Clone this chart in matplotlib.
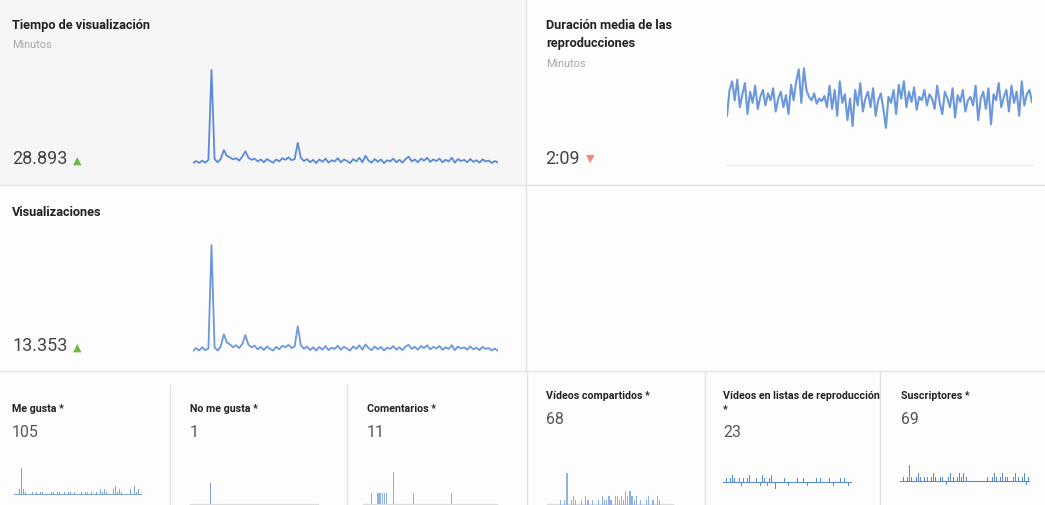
import matplotlib
matplotlib.use("Agg")
import matplotlib.pyplot as plt
from matplotlib.patches import Rectangle
from matplotlib.lines import Line2D
import numpy as np

# ---------------- data ----------------
tiempo = [200, 250, 205, 260, 210, 280, 2500, 300, 220, 300,
          520, 380, 340, 290, 320, 260, 360, 490, 330, 280,
          310, 240, 290, 220, 300, 250, 210, 290, 240, 320,
          280, 340, 270, 300, 700, 330, 250, 300, 220, 280,
          200, 290, 230, 310, 210, 270, 240, 320, 220, 290,
          250, 200, 300, 240, 330, 220, 380, 260, 210, 300,
          230, 290, 200, 270, 240, 310, 220, 280, 210, 300,
          360, 240, 290, 220, 310, 260, 330, 230, 290, 250,
          310, 220, 280, 240, 330, 210, 300, 250, 280, 220,
          300, 230, 270, 210, 290, 240, 260, 200, 250, 210]

visualizaciones = [95, 130, 100, 140, 105, 125, 1400, 140, 100, 150,
                   300, 200, 175, 140, 165, 130, 180, 290, 170, 140,
                   160, 115, 145, 105, 150, 120, 100, 145, 115, 160,
                   140, 170, 130, 150, 400, 165, 120, 150, 105, 140,
                   100, 145, 110, 155, 105, 135, 120, 160, 110, 145,
                   125, 100, 150, 120, 165, 110, 175, 130, 105, 150,
                   115, 145, 100, 135, 120, 155, 110, 140, 105, 150,
                   170, 120, 145, 110, 155, 130, 165, 115, 145, 125,
                   155, 110, 140, 120, 165, 105, 150, 125, 140, 110,
                   150, 115, 135, 105, 145, 120, 130, 100, 125, 95]

duracion = [110, 140, 150, 128, 152, 120, 135, 148, 112, 138,
            125, 145, 118, 132, 140, 122, 136, 128, 142, 115,
            130, 138, 120, 134, 112, 146, 128, 150, 164, 125,
            165, 140, 132, 128, 136, 124, 130, 127, 133, 120,
            145, 118, 140, 110, 150, 125, 135, 105, 130, 98,
            140, 122, 148, 115, 130, 138, 120, 142, 110, 128,
            136, 118, 96, 132, 125, 140, 112, 146, 130, 150,
            120, 138, 126, 143, 117, 132, 128, 140, 122, 135,
            130, 118, 145, 125, 112, 138, 130, 120, 142, 108,
            134, 126, 140, 115, 128, 132, 122, 145, 105, 130,
            138, 118, 142, 100, 135, 128, 148, 120, 132, 140,
            115, 145, 125, 138, 110, 150, 122, 135, 140, 126]

me_gusta = [1, 0, 2, 10, 2, 1, 0, 1, 1, 0, 1, 0, 1, 1, 0, 1, 0, 1, 1, 0,
            1, 1, 0, 1, 0, 1, 1, 0, 1, 0, 1, 1, 0, 1, 1, 0, 1, 2, 1, 0,
            2, 1, 2, 1, 3, 1, 2, 3, 1, 2, 1, 0, 1, 0, 2, 0, 3, 1, 2, 1]

no_me_gusta = [0, 0, 0, 0, 0, 0, 0, 0, 0, 1, 0, 0, 0, 0, 0, 0, 0, 0, 0, 0,
               0, 0, 0, 0, 0, 0, 0, 0, 0, 0, 0, 0, 0, 0, 0, 0, 0, 0, 0, 0,
               0, 0, 0, 0, 0, 0, 0, 0, 0, 0, 0, 0, 0, 0, 0, 0, 0, 0, 0, 0]

comentarios = [0, 0, 0, 1, 0, 0, 1, 1, 1, 1, 1, 0, 0, 3, 0, 0, 0, 0, 0, 0,
               0, 0, 1, 0, 0, 0, 0, 0, 0, 0, 0, 0, 0, 0, 0, 0, 0, 0, 0, 1,
               0, 0, 0, 0, 0, 0, 0, 0, 0, 0, 0, 0, 0, 0, 0, 0, 0, 0, 0, 0]

compartidos = [0, 0, 0, 0, 0, 0, 1, 0, 1, 7, 0, 1, 2, 1, 0, 0, 1, 0, 2, 1,
               0, 1, 0, 0, 1, 0, 2, 1, 1, 2, 1, 0, 2, 2, 1, 2, 1, 3, 2, 3,
               2, 1, 2, 0, 1, 0, 0, 1, 2, 0, 1, 0, 2, 1, 0, 0, 0, 0, 0, 0]

listas = [0, 1, 0, 1, 2, 1, 0, 1, -1, 1, 0, 1, 2, 1, 0, 1, 0, -1, 2, 1,
          -1, 1, 2, 0, -2, 0, 0, 0, 1, 0, -1, 0, 0, 0, 1, 0, 0, 1, 0, -1,
          0, 0, 0, 1, 0, 1, 0, 0, 0, 1, 0, -1, 0, 0, 1, 0, 1, 0, -1, 0]

suscriptores = [0, 1, 0, 1, 4, 1, 0, 1, 2, 1, 0, 1, 1, 0, 1, 2, 1, 0, 1, 1,
                0, -1, 1, 2, 1, 0, 1, 2, 1, 2, 1, 0, 0, 0, 0, 0, 0, 0, 0, 0,
                1, 0, 1, 2, 1, 0, 1, 2, 1, 1, 0, 0, 1, 2, 1, 0, 1, 2, -1, 1]

# ---------------- figure ----------------
W, H = 1045, 506
plt.rcParams['font.family'] = ['Roboto', 'DejaVu Sans']
fig = plt.figure(figsize=(W / 100, H / 100), dpi=100)
fig.patch.set_facecolor('#fdfdfd')

LINE = '#5b8ad3'
LINE2 = '#6c97db'
BAR = '#8fb1e3'
DIV = '#e3e3e5'
TITLE_C = '#222222'
SUB_C = '#a8a8a8'
NUM_C = '#444444'
GREEN = '#72b84a'
RED = '#ee8a84'


def fx(x):
    return x / W


def fy(y):
    return 1 - y / H


def rect(x0, y0, x1, y1, color):
    fig.patches.append(Rectangle((fx(x0), fy(y1)), (x1 - x0) / W, (y1 - y0) / H,
                                 transform=fig.transFigure, color=color, zorder=-5))


def hline(x0, x1, y, color=DIV, lw=1.0):
    fig.lines.append(Line2D([fx(x0), fx(x1)], [fy(y), fy(y)], transform=fig.transFigure,
                            color=color, lw=lw, zorder=-2))


def vline(x, y0, y1, color=DIV, lw=1.0):
    fig.lines.append(Line2D([fx(x), fx(x)], [fy(y0), fy(y1)], transform=fig.transFigure,
                            color=color, lw=lw, zorder=-2))


def text(x, y, s, size, color, weight='normal', **kw):
    fig.text(fx(x), fy(y), s, fontsize=size, color=color, fontweight=weight,
             va='baseline', ha='left', **kw)


def add_ax(x0, y0, x1, y1):
    ax = fig.add_axes([fx(x0), fy(y1), (x1 - x0) / W, (y1 - y0) / H])
    ax.set_axis_off()
    ax.patch.set_alpha(0)
    return ax


# backgrounds & dividers
rect(0, 0, 526, 185, '#f6f6f7')
vline(526, 0, 372)
hline(0, W, 185.5)
hline(0, W, 371.5)
for xd, yd in [(170, 386), (347, 386), (527, 373), (705, 373), (880, 373)]:
    vline(xd, yd, H)

BIG_T = 9.2
# ---- Tiempo de visualización ----
text(12, 29, 'Tiempo de visualización', BIG_T, TITLE_C, 'bold')
text(12, 48, 'Minutos', 7.8, SUB_C)
text(12, 164, '28.893', 13, NUM_C)
fig.text(fx(73), fy(163.5), '▲', fontsize=8, color=GREEN, family='DejaVu Sans',
         va='baseline', ha='left')
ax = add_ax(193, 70, 498, 165)
ax.plot(np.arange(len(tiempo)), tiempo, color=LINE, lw=1.3)
ax.margins(x=0, y=0.01)

# ---- Duración media ----
text(546, 29, 'Duración media de las', BIG_T, TITLE_C, 'bold')
text(546, 47, 'reproducciones', BIG_T, TITLE_C, 'bold')
text(546, 67, 'Minutos', 7.8, SUB_C)
text(545, 164, '2:09', 13, NUM_C)
fig.text(fx(586), fy(162), '▼', fontsize=8, color=RED, family='DejaVu Sans',
         va='baseline', ha='left')
ax = add_ax(727, 66, 1032, 165)
ax.plot(np.arange(len(duracion)), duracion, color=LINE2, lw=1.5)
ax.set_xlim(0, len(duracion) - 1)
ax.set_ylim(54, 169)
hline(727, 1032, 165.5, color='#ececec')

# ---- Visualizaciones ----
text(12, 216, 'Visualizaciones', BIG_T, TITLE_C, 'bold')
text(12, 351, '13.353', 13, NUM_C)
fig.text(fx(73), fy(350.5), '▲', fontsize=8, color=GREEN, family='DejaVu Sans',
         va='baseline', ha='left')
ax = add_ax(193, 245, 498, 353)
ax.plot(np.arange(len(visualizaciones)), visualizaciones, color=LINE2, lw=1.3)
ax.margins(x=0, y=0.01)

# ---- bottom row ----
TS = 7.7
NS = 11.4
NUM2 = '#555555'


def tick_spark(ax, vals, ylim, color=LINE, width=0.4):
    xs = np.arange(len(vals))
    ax.axhline(0, color=color, lw=0.8)
    ax.bar(xs, vals, width=width, color=color)
    ax.set_xlim(-0.5, len(vals) - 0.5)
    ax.set_ylim(*ylim)


text(12, 412, 'Me gusta *', TS, TITLE_C, 'bold')
text(12, 437, '105', NS, NUM2)
ax = add_ax(14, 468, 142, 496)
tick_spark(ax, me_gusta, (-0.3, 10.2), color='#7fa3dc')

text(190, 412, 'No me gusta *', TS, TITLE_C, 'bold')
text(190, 437, '1', NS, NUM2)
ax = add_ax(190, 480, 318, 505)
ax.bar(np.arange(len(no_me_gusta)), no_me_gusta, width=0.5, color='#7f9fd0')
ax.set_xlim(-0.5, len(no_me_gusta) - 0.5)
ax.set_ylim(0, 1.19)
hline(190, 318, 505, color='#dcdcdc')

text(367, 412, 'Comentarios *', TS, TITLE_C, 'bold')
text(367, 437, '11', NS, NUM2)
ax = add_ax(363, 470, 497, 505)
ax.bar(np.arange(len(comentarios)), comentarios, width=0.6, color=BAR)
ax.set_xlim(-0.7, len(comentarios) - 0.5)
ax.set_ylim(0, 3.28)
hline(363, 497, 505, color='#dcdcdc')

text(546, 399, 'Vídeos compartidos *', TS, TITLE_C, 'bold')
text(546, 424, '68', NS, NUM2)
ax = add_ax(547, 472, 673, 506)
ax.bar(np.arange(len(compartidos)), compartidos, width=0.55, color=BAR)
ax.set_xlim(-0.5, len(compartidos) - 0.5)
ax.set_ylim(0, 7.4)
hline(547, 673, 505, color='#dcdcdc')

text(723, 399, 'Vídeos en listas de reproducción', TS, TITLE_C, 'bold')
text(723, 412, '*', TS, TITLE_C, 'bold')
text(723, 437, '23', NS, NUM2)
ax = add_ax(723, 472, 852, 494)
tick_spark(ax, listas, (-3, 3))

text(901, 399, 'Suscriptores *', TS, TITLE_C, 'bold')
text(901, 424, '69', NS, NUM2)
ax = add_ax(900, 465, 1030, 488)
tick_spark(ax, suscriptores, (-1.5, 4.2))

fig.savefig('out.png', dpi=100, facecolor=fig.get_facecolor())
